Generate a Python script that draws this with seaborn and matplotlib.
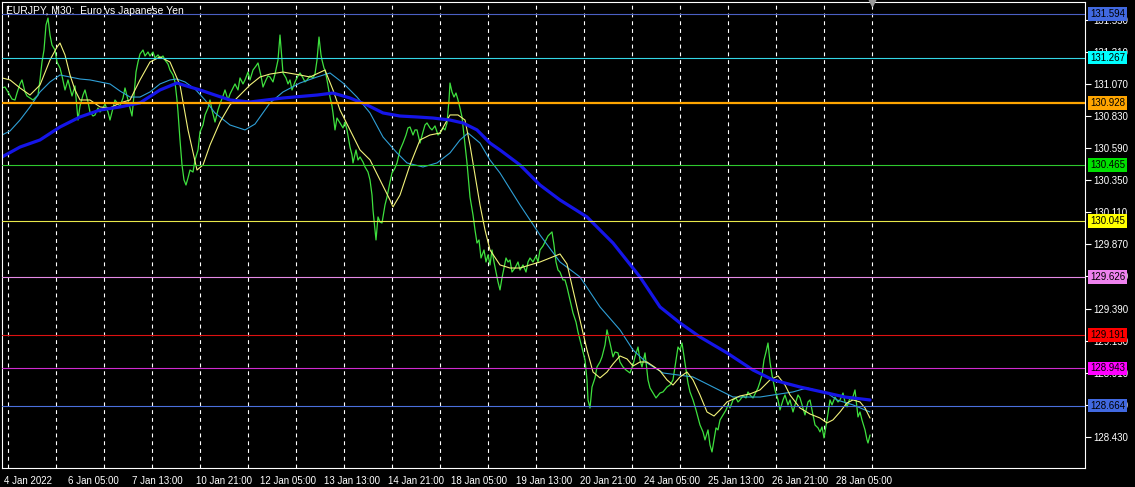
import numpy as np
import pandas as pd
import matplotlib
matplotlib.use("Agg")
import matplotlib.pyplot as plt
import matplotlib.transforms as mtransforms
import seaborn as sns

# ---------------- data ----------------
title = "EURJPY, M30:  Euro vs Japanese Yen"

close_bar = [0, 3, 6, 10, 13, 15, 18, 20, 23, 25, 28, 31, 34, 36, 38, 40, 42, 44, 46, 48, 50, 53, 55, 58, 60, 63, 66, 68, 70, 73,
             76, 78, 81, 83, 86, 88, 91, 93, 96, 98, 101, 103, 106, 108, 111, 113, 116, 118, 121, 123, 126, 128, 130, 132, 134, 136, 138, 141, 143, 146,
             148, 151, 153, 156, 158, 161, 163, 166, 168, 171, 173, 175, 176, 178, 180, 182, 184, 186, 188, 191, 193, 196, 198, 201, 203, 206, 208, 210, 213, 216,
             218, 221, 223, 226, 228, 231, 233, 236, 238, 241, 243, 246, 248, 251, 254, 256, 259, 261, 264, 266, 268, 271, 273, 276, 278, 280, 281, 284, 286, 288,
             290, 293, 296, 298, 301, 303, 305, 308, 311, 313, 315, 317, 319, 320, 322, 323, 325, 328, 330, 331, 333, 335, 338, 341, 343, 345, 348, 350, 351, 354,
             356, 358, 361, 363, 366, 368, 370, 371, 373, 374, 376, 378, 380, 383, 385, 388, 390, 393, 395, 398, 401, 404, 406, 408, 411, 413, 415, 418, 421, 423,
             425, 428, 430, 433, 436, 438, 441, 443, 445, 447, 448, 450, 452, 454, 456, 458, 460, 462, 465, 467, 468, 471, 473, 475, 477, 479, 482, 484, 486, 488,
             490, 492, 494, 496, 498, 500, 502, 504, 506, 508, 510, 513, 516, 518, 521, 524, 526, 528, 531, 534, 536, 538, 541, 544, 546, 548, 550, 552, 554, 556,
             558, 561, 563, 565, 568, 571, 574, 576, 578, 581, 583, 585, 586, 588, 590, 593, 595, 598, 600, 603, 605, 608, 611, 613, 616, 618, 621, 624, 628, 631,
             633, 636, 638, 640, 643, 646, 648, 651, 654, 658, 661, 665, 668, 671, 674, 676, 678, 680, 683, 686, 688, 691, 694, 698, 701, 703, 706, 708, 710, 712,
             714, 716, 718, 721, 724, 726, 728, 731, 734, 736, 738, 741, 744, 746, 748, 751, 754, 756, 758, 760, 762, 764, 766, 768, 770, 773, 776, 778, 781, 783,
             786, 788, 791, 793, 796, 798, 801, 803, 806, 808, 811, 813, 816, 818, 820, 822, 825, 828, 830, 833, 836, 838, 841, 843, 845, 848, 850, 853, 856, 858,
             860, 863, 865, 866, 868]
close_price = [131.040, 131.047, 131.010, 130.957, 130.950, 131.002, 131.070, 131.100, 131.010, 130.980, 130.965, 130.950, 130.972, 130.987, 131.100, 131.234, 131.324, 131.511, 131.563, 131.436,
               131.361, 131.324, 131.234, 131.189, 131.130, 131.025, 131.100, 131.040, 130.980, 131.055,
               130.800, 130.905, 130.987, 131.025, 130.935, 130.860, 130.830, 130.838, 130.890, 130.860, 130.890, 130.920, 130.860, 130.800, 130.890, 130.950, 130.920, 130.905, 130.965, 131.040,
               130.950, 130.890, 130.830, 130.987, 131.159, 131.234, 131.294, 131.324, 131.279, 131.309,
               131.279, 131.309, 131.264, 131.287, 131.264, 131.279, 131.249, 131.219, 131.174, 131.137, 131.085, 130.950, 130.860, 130.651, 130.464, 130.352, 130.314, 130.367, 130.426, 130.411,
               130.501, 130.576, 130.711, 130.763, 130.838, 130.890, 130.950, 130.875, 130.785, 130.875,
               130.920, 130.980, 131.025, 130.950, 130.995, 131.040, 131.070, 131.025, 131.115, 131.070, 131.100, 131.159, 131.100, 131.174, 131.204, 131.227, 131.130, 131.047, 131.100, 131.130,
               131.122, 131.085, 131.144, 131.249, 131.436, 131.249, 131.152, 131.115, 131.070, 131.100,
               131.025, 131.085, 131.130, 131.152, 131.115, 131.085, 131.100, 131.130, 131.115, 131.144, 131.249, 131.421, 131.287, 131.249, 131.189, 131.174, 131.100, 130.972, 130.905, 130.853,
               130.726, 130.815, 130.778, 130.741, 130.785, 130.726, 130.598, 130.539, 130.479, 130.576,
               130.501, 130.524, 130.486, 130.449, 130.411, 130.352, 130.239, 130.127, 129.978, 129.903, 130.075, 130.037, 130.030, 130.165, 130.224, 130.337, 130.404, 130.441, 130.479, 130.576,
               130.628, 130.688, 130.741, 130.748, 130.688, 130.726, 130.726, 130.628, 130.711, 130.763,
               130.778, 130.741, 130.726, 130.756, 130.688, 130.703, 130.741, 130.726, 130.778, 130.950, 131.077, 131.010, 130.972, 131.002, 130.950, 130.890, 130.823, 130.688, 130.479, 130.314,
               130.224, 130.090, 129.978, 129.880, 129.903, 129.768, 129.828, 129.738, 129.791, 129.716,
               129.828, 129.738, 129.663, 129.589, 129.529, 129.619, 129.693, 129.768, 129.738, 129.753, 129.663, 129.693, 129.738, 129.678, 129.716, 129.663, 129.738, 129.768, 129.738, 129.783,
               129.738, 129.828, 129.858, 129.903, 129.933, 129.948, 129.963, 129.865, 129.738, 129.678,
               129.663, 129.604, 129.604, 129.551, 129.454, 129.357, 129.289, 129.215, 129.155, 129.065, 129.005, 128.856, 128.706, 128.646, 128.803, 128.871, 128.953, 128.990, 129.028, 129.117,
               129.230, 129.132, 129.028, 129.065, 129.058, 128.990, 128.953, 128.930, 128.908, 128.968,
               129.028, 129.102, 129.005, 128.953, 129.058, 128.856, 128.796, 128.758, 128.721, 128.758, 128.766, 128.803, 128.818, 128.856, 129.005, 129.102, 129.080, 129.132, 128.983, 128.833,
               128.766, 128.706, 128.631, 128.519, 128.467, 128.407, 128.482, 128.369, 128.317, 128.407,
               128.497, 128.482, 128.556, 128.594, 128.631, 128.669, 128.646, 128.706, 128.721, 128.691, 128.706, 128.736, 128.721, 128.766, 128.743, 128.721, 128.766, 128.796, 128.841, 128.893,
               129.005, 129.065, 129.132, 128.990, 128.893, 128.781, 128.706, 128.631, 128.706, 128.743,
               128.669, 128.706, 128.616, 128.669, 128.743, 128.721, 128.646, 128.594, 128.691, 128.706, 128.594, 128.519, 128.497, 128.467, 128.504, 128.422, 128.556, 128.706, 128.669, 128.728,
               128.691, 128.706, 128.758, 128.691, 128.654, 128.721, 128.706, 128.781, 128.579, 128.616,
               128.556, 128.482, 128.407, 128.384, 128.444]

fast_bar = [0, 8, 18, 28, 38, 48, 55, 58, 63, 68, 73, 78, 88, 98, 108, 118, 128, 138, 148, 158, 168, 178, 186, 195, 201, 208, 218, 228, 238, 248,
            258, 268, 281, 298, 308, 323, 331, 338, 348, 358, 368, 378, 388, 391, 398, 408, 418, 428, 438, 448, 456, 463, 468, 473, 478, 483, 488, 498, 508, 518,
            528, 538, 548, 558, 565, 571, 578, 585, 591, 598, 605, 611, 618, 625, 631, 638, 645, 651, 658, 665, 671, 678, 685, 691, 698, 705, 712, 718, 725, 738,
            748, 758, 768, 776, 783, 788, 798, 808, 818, 825, 831, 838, 845, 851, 858, 863, 868]
fast_ma = [131.115, 131.100, 131.040, 130.987, 131.062, 131.249, 131.346, 131.376, 131.287, 131.137, 131.025, 130.950, 130.950, 130.898, 130.890, 130.928, 130.950, 131.100, 131.234, 131.272,
           131.234, 131.062, 130.726, 130.426, 130.464, 130.613, 130.785, 130.913, 130.987, 131.062,
           131.122, 131.144, 131.159, 131.137, 131.122, 131.174, 131.025, 130.875, 130.726, 130.576, 130.502, 130.352, 130.202, 130.150, 130.239, 130.464, 130.651, 130.688, 130.703, 130.838,
           130.838, 130.800, 130.613, 130.389, 130.165, 129.978, 129.828, 129.716, 129.693, 129.693,
           129.716, 129.738, 129.768, 129.798, 129.723, 129.529, 129.304, 129.080, 128.915, 128.871, 128.915, 128.975, 129.035, 129.013, 128.960, 128.990, 128.990, 128.960, 128.923, 128.856,
           128.818, 128.878, 128.915, 128.856, 128.743, 128.616, 128.586, 128.631, 128.691, 128.736,
           128.751, 128.781, 128.856, 128.886, 128.818, 128.743, 128.646, 128.601, 128.571, 128.534, 128.557, 128.616, 128.684, 128.706, 128.691, 128.646, 128.571]

mid_bar = [0, 8, 18, 28, 38, 48, 58, 68, 78, 88, 98, 108, 118, 128, 138, 148, 158, 168, 175, 183, 193, 203, 213, 228, 243, 253, 268, 281, 298, 315,
           328, 341, 355, 368, 381, 395, 405, 421, 435, 448, 458, 466, 478, 488, 498, 518, 538, 558, 578, 598, 618, 631, 645, 661, 691, 711, 731, 758, 791, 805,
           825, 835, 851, 868]
mid_ma = [130.688, 130.718, 130.800, 130.898, 131.010, 131.085, 131.137, 131.122, 131.107, 131.100, 131.085, 131.070, 131.017, 130.972, 130.972, 131.010, 131.070, 131.100, 131.107, 131.085,
          131.032, 130.950, 130.853, 130.763, 130.726, 130.770, 130.928, 131.010, 131.077, 131.122,
          131.152, 131.077, 130.972, 130.853, 130.673, 130.554, 130.479, 130.449, 130.479, 130.554, 130.651, 130.703, 130.628, 130.501, 130.404, 130.165, 129.940, 129.738, 129.626, 129.402,
          129.230, 129.080, 128.983, 128.908, 128.878, 128.803, 128.728, 128.728, 128.766, 128.796,
          128.758, 128.706, 128.669, 128.616]

slow_bar = [0, 18, 38, 58, 78, 98, 118, 138, 158, 175, 188, 198, 213, 228, 248, 281, 315, 331, 348, 365, 381, 398, 415, 431, 448, 461, 475, 488, 498, 518,
            538, 558, 585, 611, 638, 658, 678, 698, 725, 751, 771, 798, 825, 843, 868]
slow_ma = [130.524, 130.598, 130.651, 130.748, 130.823, 130.875, 130.898, 130.928, 131.025, 131.077, 131.047, 131.025, 130.987, 130.950, 130.935, 130.965, 130.987, 131.002, 130.965, 130.913,
           130.853, 130.830, 130.823, 130.815, 130.800, 130.778, 130.726, 130.628, 130.576, 130.464,
           130.314, 130.202, 130.075, 129.880, 129.626, 129.402, 129.282, 129.177, 129.058, 128.930, 128.856, 128.803, 128.758, 128.728, 128.706]

level_prices = [131.594, 131.267, 130.928, 130.465, 130.045, 129.626, 129.191, 128.943, 128.664]
level_labels = ["131.594", "131.267", "130.928", "130.465", "130.045", "129.626", "129.191", "128.943", "128.664"]
level_line_colors = ["#4a5fc4", "#33d6e6", "#ffa500", "#2ec82e", "#e8e84a", "#e68ae6", "#dd1111", "#d02bd0", "#4a6fdc"]
level_box_colors = ["#4169e1", "#00ffff", "#ffa500", "#00e000", "#ffff00", "#ee82ee", "#ff0000", "#ff00ff", "#4169e1"]
level_widths = [1, 1, 2, 1, 1, 1, 1, 1, 1]

ytick_values = [131.550, 131.310, 131.070, 130.830, 130.590, 130.350, 130.110, 129.870, 129.630, 129.390, 129.150, 128.910, 128.670, 128.430]
xtick_bars = [0, 64, 128, 192, 256, 320, 384, 447, 512, 576, 640, 704, 768, 832]
xtick_labels = ["4 Jan 2022", "6 Jan 05:00", "7 Jan 13:00", "10 Jan 21:00", "12 Jan 05:00", "13 Jan 13:00", "14 Jan 21:00",
                "18 Jan 05:00", "19 Jan 13:00", "20 Jan 21:00", "24 Jan 05:00", "25 Jan 13:00", "26 Jan 21:00", "28 Jan 05:00"]
grid_bars = [6, 54, 102, 150, 198, 246, 294, 342, 390, 438, 486, 534, 582, 630, 678, 726, 774, 822, 870]

# ---------------- plotting ----------------
sns.set_theme(style="dark")
plt.rcParams["font.family"] = ["Liberation Sans", "DejaVu Sans"]

W, H = 1135, 487
fig = plt.figure(figsize=(W / 100, H / 100), dpi=100, facecolor="black")
ax = fig.add_axes([2 / W, (H - 468) / H, 1083 / W, 466 / H])
ax.set_facecolor("black")

df_close = pd.DataFrame({"bar": close_bar, "price": close_price})
df_fast = pd.DataFrame({"bar": fast_bar, "price": fast_ma})
df_mid = pd.DataFrame({"bar": mid_bar, "price": mid_ma})
df_slow = pd.DataFrame({"bar": slow_bar, "price": slow_ma})

sns.lineplot(data=df_close, x="bar", y="price", ax=ax, color="#3ee03e", lw=0.9, zorder=2, estimator=None)
sns.lineplot(data=df_mid, x="bar", y="price", ax=ax, color="#2f9fd6", lw=0.8, zorder=2, estimator=None)
sns.lineplot(data=df_fast, x="bar", y="price", ax=ax, color="#f2f27a", lw=0.8, zorder=2, estimator=None)
sns.lineplot(data=df_slow, x="bar", y="price", ax=ax, color="#1515e8", lw=2.3, zorder=2, estimator=None)

ytrans = mtransforms.blended_transform_factory(ax.transAxes, ax.transData)
for p, lab, lc, bc, w in zip(level_prices, level_labels, level_line_colors, level_box_colors, level_widths):
    ax.axhline(p, color=lc, lw=w * 0.8, zorder=3)
    ax.text(1.0 + 5 / 1083, p, lab, transform=ytrans, ha="left", va="center", fontsize=7, color="black",
            zorder=6, clip_on=False,
            bbox=dict(boxstyle="square,pad=0.18", fc=bc, ec="none"))

ax.set_xlim(0, 1083)
ax.set_ylim(128.197, 131.683)

# axes, ticks
ax.yaxis.tick_right()
ax.set_yticks(ytick_values)
ax.set_yticklabels([f"{v:.3f}" for v in ytick_values])
ax.tick_params(axis="y", which="major", direction="out", length=4, width=0.8, colors="white",
               labelsize=7, pad=2, right=True, left=False)

ax.set_xticks(xtick_bars)
ax.set_xticklabels(xtick_labels)
ax.set_xticks(grid_bars, minor=True)
ax.tick_params(axis="x", which="major", direction="out", length=5, width=0.8, colors="white", labelsize=7, pad=1)
ax.tick_params(axis="x", which="minor", direction="in", length=4, width=0.8, colors="white")
offset = mtransforms.ScaledTranslation(2 / 100, 0, fig.dpi_scale_trans)
for lbl in ax.get_xticklabels():
    lbl.set_ha("left")
    lbl.set_transform(lbl.get_transform() + offset)

ax.grid(False)
ax.grid(True, which="minor", axis="x", color="white", lw=0.8, linestyle=(0, (3.5, 3.5)), zorder=1)
ax.set_axisbelow(True)

for s in ax.spines.values():
    s.set_visible(True)
    s.set_color("white")
    s.set_linewidth(0.8)

ax.set_xlabel("")
ax.set_ylabel("")

ax.text(4 / 1083, 1 - 9 / 466, title, transform=ax.transAxes, ha="left", va="center", fontsize=7.5,
        color="white", zorder=7)

# chart shift marker at end of data
ax.plot([close_bar[-1] + 2], [ax.get_ylim()[1]], marker="v", color="#9a9a9a", markersize=6,
        clip_on=False, zorder=8, linestyle="none")

fig.savefig("out.png", dpi=100, facecolor="black")
